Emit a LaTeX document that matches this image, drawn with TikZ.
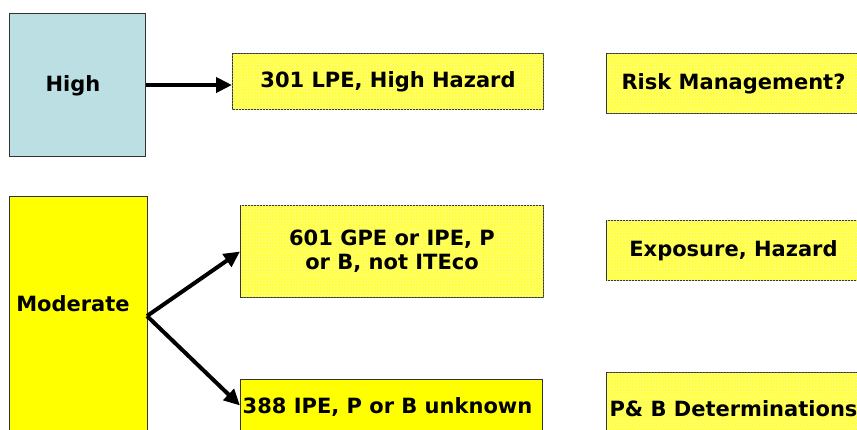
\documentclass[tikz,border=0pt]{standalone}
\usepackage{fontspec}
\setmainfont{DejaVu Sans}
\usepackage{tikz}
\usetikzlibrary{arrows.meta}
\usetikzlibrary{patterns}
\usetikzlibrary{positioning}

\definecolor{highblue}{HTML}{BBDFE3}
\definecolor{paleyellow}{HTML}{FFFF40}
\definecolor{fullyellow}{HTML}{FFFF00}
\definecolor{edgegray}{HTML}{333333}

\tikzset{
  levelbox/.style={draw=edgegray, line width=1pt, anchor=north west, inner sep=0pt},
  mottled/.style={fill=paleyellow, postaction={pattern=crosshatch dots, pattern color=white!80!yellow}},
  boxtext/.style={font=\fontsize{21}{24}\selectfont\bfseries, align=center, inner sep=0pt},
  flow/.style={line width=4.5pt, -{Triangle[length=16pt,width=15pt]}}
}

\begin{document}
\begin{tikzpicture}[x=1pt,y=-1pt]
        \useasboundingbox (0,0) rectangle (857,429);
        \clip (0,0) rectangle (857,429);
        % left column: levels
        \node[levelbox, fill=highblue, minimum width=136pt, minimum height=143pt] (high) at (9,13) {};
        \node[boxtext] (hightext) at (73,86) {High};
        \node[levelbox, fill=fullyellow, minimum width=138pt, minimum height=250pt] (moderate) at (9,196) {};
        \node[boxtext] (modtext) at (73,304) {Moderate};
        % middle column: counts
        \node[levelbox, mottled, minimum width=311pt, minimum height=56pt] (lpe) at (232,53) {};
        \node[boxtext] at (lpe.center) {301 LPE, High Hazard};
        \node[levelbox, mottled, minimum width=303pt, minimum height=92pt] (gpe) at (240,205) {};
        \node[boxtext] at (gpe.center) {601 GPE or IPE, P\\or B, not ITEco};
        \node[levelbox, fill=fullyellow, minimum width=302pt, minimum height=52pt] (ipe) at (240,379) {};
        \node[boxtext] at ([xshift=-4pt,yshift=-2pt]ipe.center) {388 IPE, P or B unknown};
        % right column: questions
        \node[levelbox, mottled, minimum width=254pt, minimum height=60pt] (risk) at (606,53) {};
        \node[boxtext] at (risk.center) {Risk Management?};
        \node[levelbox, mottled, minimum width=254pt, minimum height=60pt] (expo) at (606,220) {};
        \node[boxtext] at (expo.center) {Exposure, Hazard};
        \node[levelbox, mottled, minimum width=254pt, minimum height=60pt] (pbdet) at (606,372) {};
        \node[boxtext] at ([yshift=-6pt]pbdet.center) {P\& B Determinations};
        % connectors
        \coordinate (modfork) at (147,316);
        \draw[flow] (high.east) -- (high.east -| lpe.west);
        \draw[flow, line width=4pt] (modfork) -- (gpe.west);
        \draw[flow, line width=4pt] (modfork) -- (ipe.west);
\end{tikzpicture}
\end{document}
